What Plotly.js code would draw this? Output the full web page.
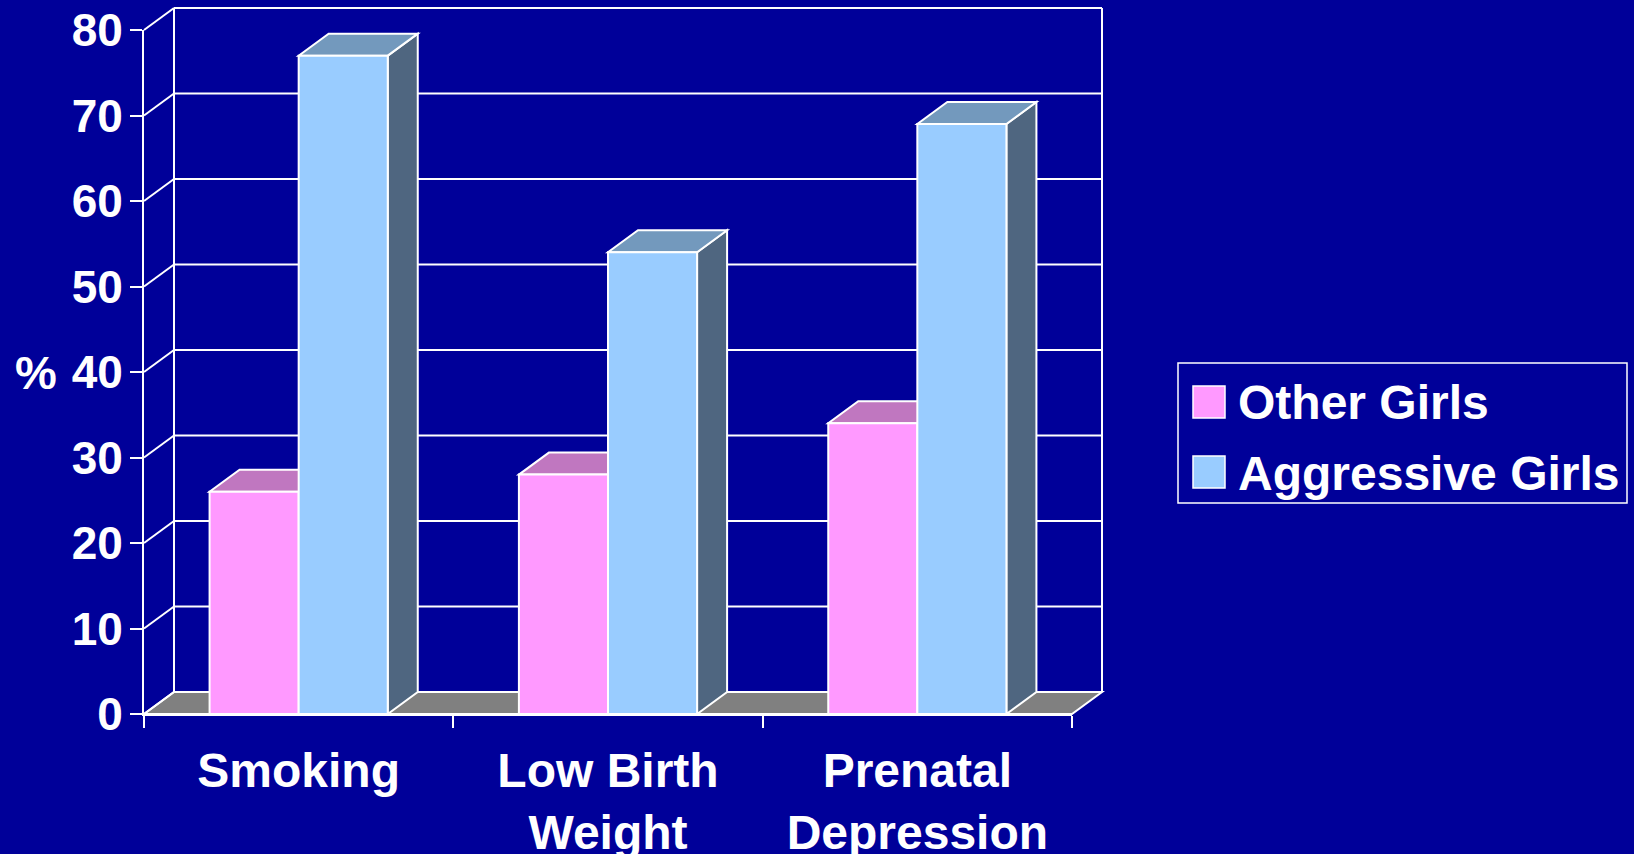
<!DOCTYPE html>
<html>
<head>
<meta charset="utf-8">
<script src="https://cdn.plot.ly/plotly-3.0.1.min.js"></script>
<style>
  html, body { margin: 0; padding: 0; background: #000099; }
  #chart { width: 1634px; height: 854px; }
</style>
</head>
<body>
<div id="chart"></div>
<script>
// ---- data ----
const categories = ['Smoking', 'Low Birth<br>Weight', 'Prenatal<br>Depression'];
const otherGirls = [26, 28, 34];
const aggressiveGirls = [77, 54, 69];
const seriesNames = ['Other Girls', 'Aggressive Girls'];
const yTickVals = [0, 10, 20, 30, 40, 50, 60, 70, 80];
const yAxisLabel = '%';

// ---- styling / geometry ----
const W = 1634, H = 854;
const L = 144, PW = 928, T = 30, PH = 684;
const BG = '#000099';
const frontColors = ['#FF99FF', '#99CCFF'];
const topColors = ['#C077C0', '#7399BD'];
const sideColors = ['#A060A0', '#4F6680'];
const FONT = 'Liberation Sans, Arial, sans-serif';
const DXpx = 30, DYpx = 22;
const DX = DXpx / PW, DY = DYpx / PH;
const yMax = 80;
const nCat = categories.length;
const barW = 0.288;

const xp = x => (x + 0.5) / nCat;
const yp = y => y / yMax;
const pxX = px => (px - L) / PW;
const pxY = py => (T + PH - py) / PH;

const shapes = [];
const white = {color: 'white', width: 2};

// floor
shapes.push({type: 'path', xref: 'paper', yref: 'paper', layer: 'below',
  path: `M${xp(-0.5)},${yp(0)} L${xp(nCat - 0.5)},${yp(0)} L${xp(nCat - 0.5) + DX},${yp(0) + DY} L${xp(-0.5) + DX},${yp(0) + DY} Z`,
  fillcolor: '#808080', line: white});

// back wall gridlines + left wall diagonals
yTickVals.forEach(v => {
  shapes.push({type: 'line', xref: 'paper', yref: 'paper', layer: 'below',
    x0: xp(-0.5) + DX, x1: xp(nCat - 0.5) + DX, y0: yp(v) + DY, y1: yp(v) + DY, line: white});
  shapes.push({type: 'line', xref: 'paper', yref: 'paper', layer: 'below',
    x0: xp(-0.5), x1: xp(-0.5) + DX, y0: yp(v), y1: yp(v) + DY, line: white});
});
// back wall verticals
[xp(-0.5) + DX, xp(nCat - 0.5) + DX].forEach(x => {
  shapes.push({type: 'line', xref: 'paper', yref: 'paper', layer: 'below',
    x0: x, x1: x, y0: yp(0) + DY, y1: yp(yMax) + DY, line: white});
});

// bar side + top faces
[otherGirls, aggressiveGirls].forEach((vals, s) => {
  vals.forEach((v, i) => {
    const xl = xp(i - barW + s * barW), xr = xp(i + s * barW);
    shapes.push({type: 'path', xref: 'paper', yref: 'paper', layer: 'below',
      path: `M${xr},${yp(0)} L${xr},${yp(v)} L${xr + DX},${yp(v) + DY} L${xr + DX},${yp(0) + DY} Z`,
      fillcolor: sideColors[s], line: white});
    shapes.push({type: 'path', xref: 'paper', yref: 'paper', layer: 'below',
      path: `M${xl},${yp(v)} L${xr},${yp(v)} L${xr + DX},${yp(v) + DY} L${xl + DX},${yp(v) + DY} Z`,
      fillcolor: topColors[s], line: white});
  });
});

// manual legend
shapes.push({type: 'rect', xref: 'paper', yref: 'paper', layer: 'above',
  x0: pxX(1178), x1: pxX(1627), y0: pxY(503), y1: pxY(363),
  line: {color: 'white', width: 1.5}, fillcolor: 'rgba(0,0,0,0)'});
const legendRows = [402, 472];
const annotations = [];
seriesNames.forEach((name, s) => {
  const cy = legendRows[s];
  shapes.push({type: 'rect', xref: 'paper', yref: 'paper', layer: 'above',
    x0: pxX(1193), x1: pxX(1225), y0: pxY(cy + 16), y1: pxY(cy - 16),
    fillcolor: frontColors[s], line: {color: 'white', width: 1.5}});
  annotations.push({xref: 'paper', yref: 'paper', x: pxX(1236), y: pxY(cy + 1),
    xanchor: 'left', yanchor: 'middle', text: name, showarrow: false,
    font: {family: FONT, size: 48, color: 'white', weight: 'bold'}});
});
annotations.push({xref: 'paper', yref: 'y', x: pxX(36), y: 40, xanchor: 'center', yanchor: 'middle',
  text: yAxisLabel, showarrow: false, font: {family: FONT, size: 47, color: 'white', weight: 'bold'}});

const traces = [otherGirls, aggressiveGirls].map((vals, s) => ({
  type: 'bar', x: categories, y: vals, name: seriesNames[s],
  marker: {color: frontColors[s], line: {color: 'white', width: 2}},
  hoverinfo: 'skip'
}));

const layout = {
  width: W, height: H,
  margin: {l: L, r: W - L - PW, t: T, b: H - T - PH, pad: 0},
  paper_bgcolor: BG, plot_bgcolor: 'rgba(0,0,0,0)',
  showlegend: false,
  barmode: 'group', bargap: 1 - 2 * barW, bargroupgap: 0,
  xaxis: {type: 'category', range: [-0.5, nCat - 0.5], showgrid: false, zeroline: false,
    showline: true, linecolor: 'white', linewidth: 2,
    ticks: 'outside', tickson: 'boundaries', ticklen: 12, tickwidth: 2, tickcolor: 'white',
    tickfont: {family: FONT, size: 48, color: 'white', weight: 'bold'}, ticklabelstandoff: 13},
  yaxis: {range: [0, yMax], tickvals: yTickVals, showgrid: false, zeroline: false,
    showline: true, linecolor: 'white', linewidth: 2,
    ticks: 'outside', ticklen: 12, tickwidth: 2, tickcolor: 'white',
    tickfont: {family: FONT, size: 46, color: 'white', weight: 'bold'}, ticklabelstandoff: -2},
  shapes: shapes,
  annotations: annotations
};

Plotly.newPlot('chart', traces, layout, {displayModeBar: false, staticPlot: true});
</script>
</body>
</html>
